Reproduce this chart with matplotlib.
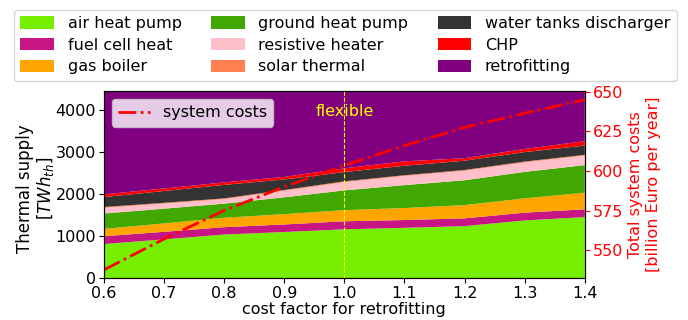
import matplotlib.pyplot as plt
import numpy as np

# cost factor for retrofitting
factor = [0.6, 0.7, 0.8, 0.9, 1.0, 1.1, 1.2, 1.3, 1.4]

# stacked thermal supply in TWh_th
air_heat_pump = [810, 920, 1035, 1095, 1160, 1195, 1235, 1370, 1450]
fuel_cell_heat = [185, 180, 175, 180, 190, 185, 185, 185, 185]
gas_boiler = [175, 200, 225, 245, 265, 285, 315, 340, 395]
ground_heat_pump = [365, 350, 335, 400, 470, 545, 590, 630, 655]
resistive_heater = [135, 120, 105, 155, 195, 215, 225, 225, 225]
solar_thermal = [20, 20, 20, 20, 20, 20, 20, 20, 20]
water_tanks = [235, 280, 320, 250, 220, 225, 220, 225, 220]
chp = [65, 60, 60, 60, 90, 105, 60, 75, 105]
retrofitting_top = 5000

# total system costs in billion Euro per year
system_costs = [537.5, 557, 575, 590, 603.5, 616, 627.5, 636.5, 645]

labels = ["air heat pump", "fuel cell heat", "gas boiler",
          "ground heat pump", "resistive heater", "solar thermal",
          "water tanks discharger", "CHP", "retrofitting"]
colors = ["#76ee00", "#c71585", "#ffa500", "#40a800", "#ffc0cb",
          "#ff7f50", "#333333", "#ff0000", "#800080"]

stack = [air_heat_pump, fuel_cell_heat, gas_boiler, ground_heat_pump,
         resistive_heater, solar_thermal, water_tanks, chp]
below = np.sum(np.array(stack), axis=0)
retrofitting = list(retrofitting_top - below)
stack.append(retrofitting)

plt.rcParams['font.size'] = 11.5

fig = plt.figure(figsize=(6.88, 3.2), dpi=100)
ax = fig.add_axes([0.151, 0.131, 0.699, 0.585])
polys = ax.stackplot(factor, *stack, colors=colors, labels=labels)
ax.set_xlim(0.6, 1.4)
ax.set_ylim(0, 4450)
ax.set_xticks([0.6, 0.7, 0.8, 0.9, 1.0, 1.1, 1.2, 1.3, 1.4])
ax.tick_params(labelsize=11.5, pad=2)
ax.set_xlabel("cost factor for retrofitting", labelpad=1)
ax.set_ylabel("Thermal supply\n[$TWh_{th}$]", fontsize=12, linespacing=1.05)
ax.yaxis.set_label_coords(-0.1, 0.48)

ax.axvline(1.0, color="yellow", ls="--", lw=0.8)
ax.text(1.0, 3950, "flexible", color="yellow", ha="center", va="center")

fig.legend(polys, labels, ncol=3, loc="upper center",
           bbox_to_anchor=(0.502, 0.995), columnspacing=1.85,
           handlelength=2.1, handleheight=0.8, labelspacing=0.42,
           handletextpad=0.85, borderpad=0.4)

ax2 = ax.twinx()
ax2.plot(factor, system_costs, color="red", ls="-.", lw=2,
         label="system costs")
ax2.set_ylim(532.3, 650.6)
ax2.set_yticks([550, 575, 600, 625, 650])
ax2.tick_params(axis="y", colors="red", labelsize=11.5, pad=2)
ax2.set_ylabel("Total system costs\n[billion Euro per year]", color="red")
ax2.legend(loc="upper left", framealpha=0.8)

fig.savefig("out.png", dpi=100)
